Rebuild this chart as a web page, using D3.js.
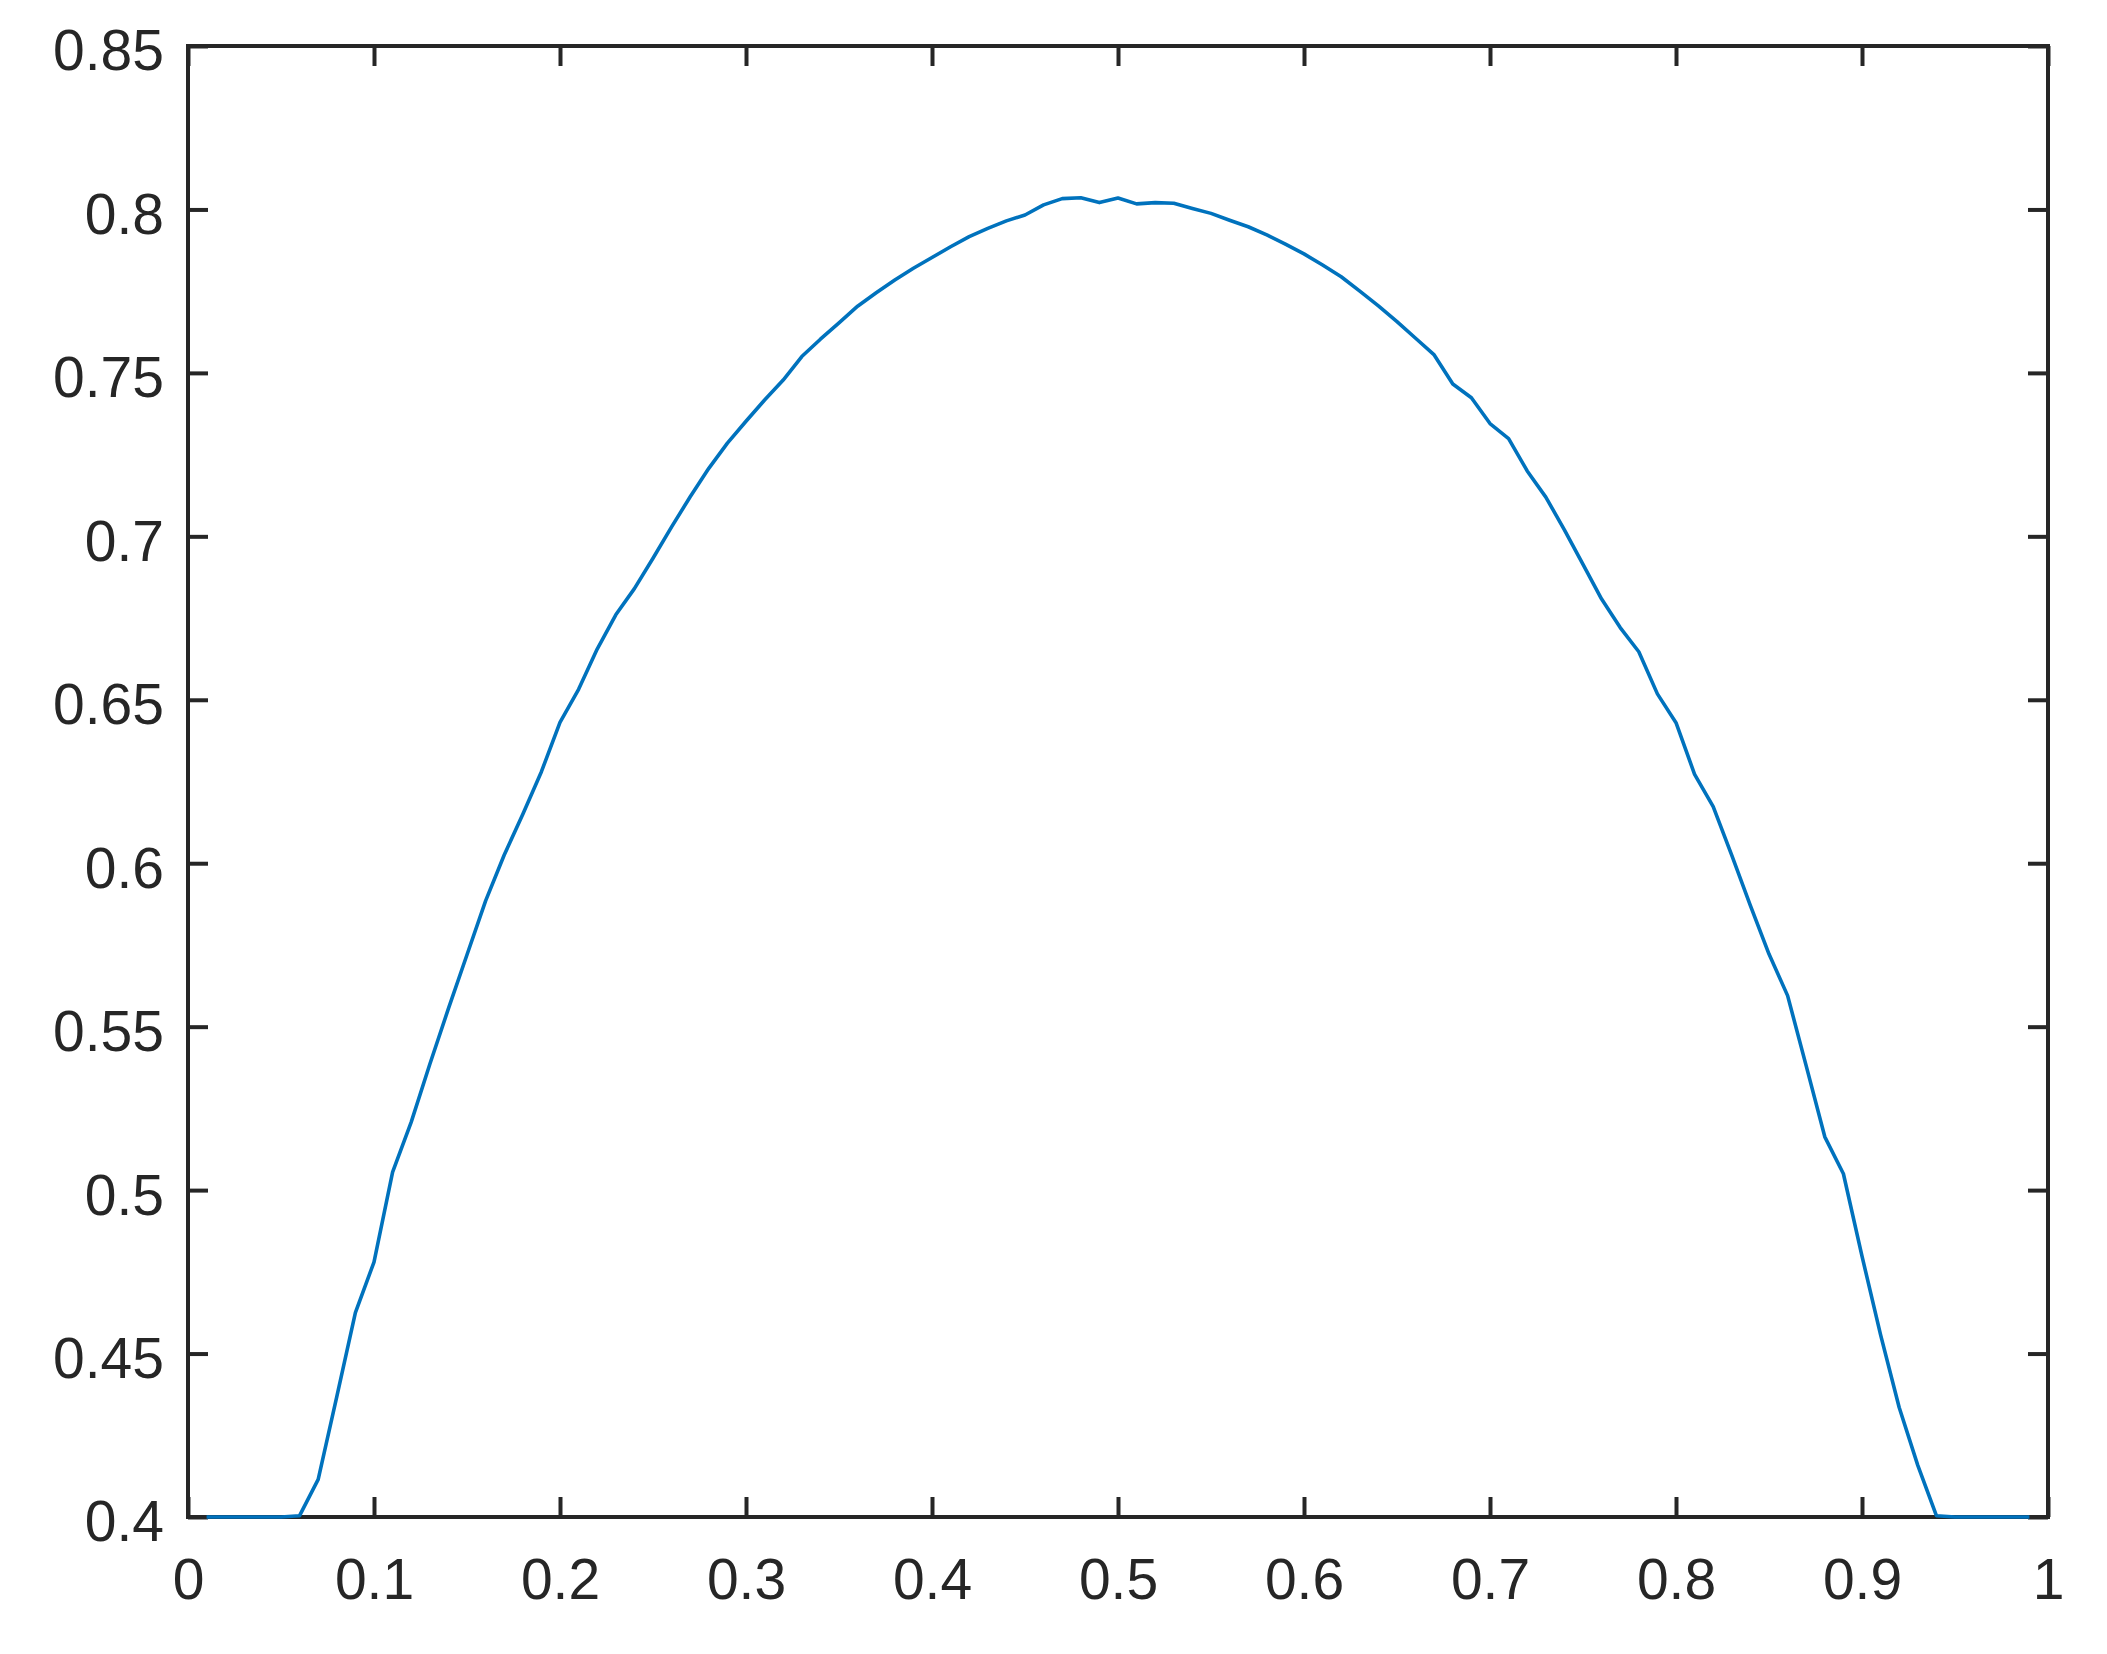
<!DOCTYPE html>
<html>
<head>
<meta charset="utf-8">
<script src="https://cdn.jsdelivr.net/npm/d3@7"></script>
<style>
  html, body { margin: 0; padding: 0; background: #fff; }
  svg { display: block; }
</style>
</head>
<body>
<div id="chart_div"></div>
<script>
// sample positions and curve values
const xValues = [
  0.01, 0.02, 0.03, 0.04, 0.05, 0.06, 0.07, 0.08, 0.09, 0.10,
  0.11, 0.12, 0.13, 0.14, 0.15, 0.16, 0.17, 0.18, 0.19, 0.20,
  0.21, 0.22, 0.23, 0.24, 0.25, 0.26, 0.27, 0.28, 0.29, 0.30,
  0.31, 0.32, 0.33, 0.34, 0.35, 0.36, 0.37, 0.38, 0.39, 0.40,
  0.41, 0.42, 0.43, 0.44, 0.45, 0.46, 0.47, 0.48, 0.49, 0.50,
  0.51, 0.52, 0.53, 0.54, 0.55, 0.56, 0.57, 0.58, 0.59, 0.60,
  0.61, 0.62, 0.63, 0.64, 0.65, 0.66, 0.67, 0.68, 0.69, 0.70,
  0.71, 0.72, 0.73, 0.74, 0.75, 0.76, 0.77, 0.78, 0.79, 0.80,
  0.81, 0.82, 0.83, 0.84, 0.85, 0.86, 0.87, 0.88, 0.89, 0.90,
  0.91, 0.92, 0.93, 0.94, 0.95, 0.96, 0.97, 0.98, 0.99
];

const yValues = [
  0.4, 0.4, 0.4, 0.4, 0.4, 0.4004, 0.4115, 0.4368, 0.4625, 0.478,
  0.5055, 0.5208, 0.5385, 0.5555, 0.572, 0.5885, 0.6025, 0.615, 0.628, 0.6431,
  0.6532, 0.6655, 0.676, 0.684, 0.6933, 0.7029, 0.7121, 0.7208, 0.7285, 0.7352,
  0.7417, 0.7478, 0.755, 0.7603, 0.7653, 0.7704, 0.7745, 0.7784, 0.782, 0.7853,
  0.7886, 0.7917, 0.7942, 0.7965, 0.7983, 0.8014, 0.8033, 0.8036, 0.8021, 0.8035,
  0.8017, 0.8021, 0.8019, 0.8003, 0.7988, 0.7967, 0.7947, 0.7922, 0.7894, 0.7864,
  0.783, 0.7794, 0.775, 0.7705, 0.7657, 0.7606, 0.7555, 0.7466, 0.7424, 0.7345,
  0.7299, 0.72, 0.712, 0.702, 0.6914, 0.6808, 0.6721, 0.6647, 0.6518, 0.643,
  0.6272, 0.6173, 0.6024, 0.587, 0.5722, 0.5595, 0.538, 0.5163, 0.505, 0.4798,
  0.4557, 0.4335, 0.4158, 0.4004, 0.4, 0.4, 0.4, 0.4, 0.4
];

const xTicks = [0, 0.1, 0.2, 0.3, 0.4, 0.5, 0.6, 0.7, 0.8, 0.9, 1];
const yTicks = [0.4, 0.45, 0.5, 0.55, 0.6, 0.65, 0.7, 0.75, 0.8, 0.85];

const margin = {top: 46, right: 59, bottom: 137, left: 188};
const svgWidth = 2107 - margin.left - margin.right;
const svgHeight = 1654 - margin.top - margin.bottom;

const axisColor = "#262626";
const lineColor = "#0072bd";
const fontFamily = "'Liberation Sans', Arial, Helvetica, sans-serif";

let data = xValues.map(function(x, i) {
    return {x: x, y: yValues[i]};
});

let svg = d3.select("#chart_div")
    .append("svg")
    .attr("width", 2107)
    .attr("height", 1654);

svg.append("rect")
    .attr("width", 2107)
    .attr("height", 1654)
    .attr("fill", "#fff");

let view = svg.append("g")
    .attr("transform", "translate(" + margin.left + "," + margin.top + ")");

let xScale = d3.scaleLinear()
    .domain([0, 1])
    .range([0, svgWidth]);

let yScale = d3.scaleLinear()
    .domain([0.4, 0.85])
    .range([svgHeight, 0]);

// axes, ticks pointing inwards on all four sides
let bottomAxis = view.append("g")
    .attr("transform", "translate(0," + svgHeight + ")")
    .call(d3.axisBottom(xScale)
        .tickValues(xTicks)
        .tickSizeInner(-20)
        .tickSizeOuter(0)
        .tickPadding(42)
        .tickFormat(d3.format("")));

let leftAxis = view.append("g")
    .call(d3.axisLeft(yScale)
        .tickValues(yTicks)
        .tickSizeInner(-20)
        .tickSizeOuter(0)
        .tickPadding(24)
        .tickFormat(d3.format("")));

let topAxis = view.append("g")
    .call(d3.axisTop(xScale)
        .tickValues(xTicks)
        .tickSizeInner(-20)
        .tickSizeOuter(0)
        .tickFormat(""));

let rightAxis = view.append("g")
    .attr("transform", "translate(" + svgWidth + ",0)")
    .call(d3.axisRight(yScale)
        .tickValues(yTicks)
        .tickSizeInner(-20)
        .tickSizeOuter(0)
        .tickFormat(""));

[bottomAxis, leftAxis, topAxis, rightAxis].forEach(function(g) {
    g.select(".domain").remove();
    g.selectAll(".tick line")
        .attr("stroke", axisColor)
        .attr("stroke-width", 4);
    g.selectAll(".tick text")
        .attr("fill", axisColor)
        .style("font-family", fontFamily)
        .style("font-size", "57px");
});

leftAxis.selectAll(".tick text").attr("dy", "0.42em");

// box around the plot
view.append("rect")
    .attr("x", 0)
    .attr("y", 0)
    .attr("width", svgWidth)
    .attr("height", svgHeight)
    .attr("fill", "none")
    .attr("stroke", axisColor)
    .attr("stroke-width", 4);

// the curve, drawn last so its flat ends show over the bottom axis
view.append("path")
    .datum(data)
    .attr("fill", "none")
    .attr("stroke", lineColor)
    .attr("stroke-width", 3.6)
    .attr("stroke-linejoin", "round")
    .attr("d", d3.line()
        .x(function(d) { return xScale(d.x); })
        .y(function(d) { return yScale(d.y); })
    );
</script>
</body>
</html>
